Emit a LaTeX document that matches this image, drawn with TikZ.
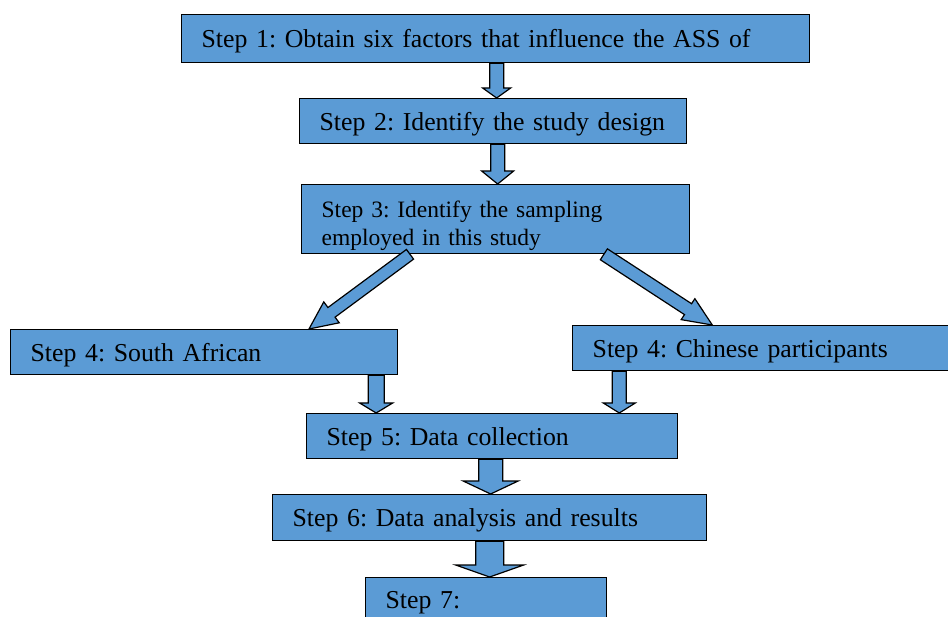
\documentclass[tikz,border=0pt]{standalone}
\usepackage{fontspec}
\setmainfont{Liberation Serif}
\usetikzlibrary{calc}
\definecolor{stepblue}{HTML}{5B9BD5}
\frenchspacing
\tikzset{
    stepbox/.style={rectangle, draw=black, line width=1.3pt, fill=stepblue,
        anchor=north west, inner xsep=20pt, inner ysep=0pt, align=left,
        text depth=0pt, font=\fontsize{25.8}{30}\selectfont},
    blockarrow/.style n args={3}{draw=black, line width=1.2pt, fill=stepblue,
        to path={let \p1=($(\tikztotarget)!#3!(\tikztostart)$) in
            ($(\tikztostart)!#1!90:(\tikztotarget)$)
            -- ($(\p1)!#1!90:(\tikztotarget)$)
            -- ($(\p1)!#2!90:(\tikztotarget)$)
            -- (\tikztotarget)
            -- ($(\p1)!#2!-90:(\tikztotarget)$)
            -- ($(\p1)!#1!-90:(\tikztotarget)$)
            -- ($(\tikztostart)!#1!-90:(\tikztotarget)$) -- cycle}},
}

\begin{document}
\begin{tikzpicture}[x=1pt, y=-1pt]

    \clip (0,0) rectangle (948,617);

    % ── Steps ──────────────────────────────────────────────────────────────
    \node[stepbox, minimum width=628, minimum height=48, text width=588] (s1) at (181,14)
        {Step 1: Obtain six factors that influence the ASS of};
    \node[stepbox, minimum width=387, minimum height=45, text width=347] (s2) at (299,98)
        {Step 2: Identify the study design};
    \node[stepbox, minimum width=388, minimum height=69, text width=348, text depth=20pt,
          font=\fontsize{23.5}{28}\selectfont] (s3) at (301,184)
        {Step 3: Identify the sampling\\employed in this study};

    % ── Two groups ─────────────────────────────────────────────────────────
    \node[stepbox, minimum width=387, minimum height=45, text width=347] (s4a) at (10,329)
        {Step 4: South African};
    \node[stepbox, minimum width=380, minimum height=45, text width=340] (s4b) at (572,325)
        {Step 4: Chinese participants};

    % ── Data and results ───────────────────────────────────────────────────
    \node[stepbox, minimum width=371, minimum height=45, text width=331] (s5) at (306,413)
        {Step 5: Data collection};
    \node[stepbox, minimum width=434, minimum height=46, text width=394] (s6) at (272,494)
        {Step 6: Data analysis and results};
    \node[stepbox, minimum width=241, minimum height=45, text width=201] (s7) at (365,577)
        {Step 7:};

    % ── Arrows ─────────────────────────────────────────────────────────────
    \coordinate (a1) at ([xshift=1]s1.south);
    \coordinate (a2) at ([xshift=4.5]s2.south);
    \coordinate (a4a) at ($(s4a.south west)!0.943!(s4a.south east)$);
    \coordinate (a4b) at ($(s4b.south west)!0.124!(s4b.south east)$);
    \coordinate (a5) at ([xshift=-1.5]s5.south);
    \coordinate (a6) at ([xshift=0]s6.south);

    \draw[blockarrow={7pt}{14pt}{10pt}] (a1) to (a1 |- s2.north);
    \draw[blockarrow={7pt}{16pt}{13pt}] (a2) to (a2 |- s3.north);
    \draw[blockarrow={6pt}{13pt}{28pt}] ($(s3.south west)!0.28!(s3.south east)$)
        to ($(s4a.north west)!0.77!(s4a.north east)$);
    \draw[blockarrow={6.5pt}{12.5pt}{29pt}] ($(s3.south west)!0.778!(s3.south east)$)
        to ($(s4b.north west)!0.368!(s4b.north east)$);
    \draw[blockarrow={8pt}{16.5pt}{10pt}] (a4a) to (a4a |- s5.north);
    \draw[blockarrow={7pt}{16pt}{10pt}] (a4b) to (a4b |- s5.north);
    \draw[blockarrow={12pt}{27.5pt}{13pt}] (a5) to (a5 |- s6.north);
    \draw[blockarrow={14pt}{34pt}{12pt}] (a6) to (a6 |- s7.north);

\end{tikzpicture}
\end{document}
